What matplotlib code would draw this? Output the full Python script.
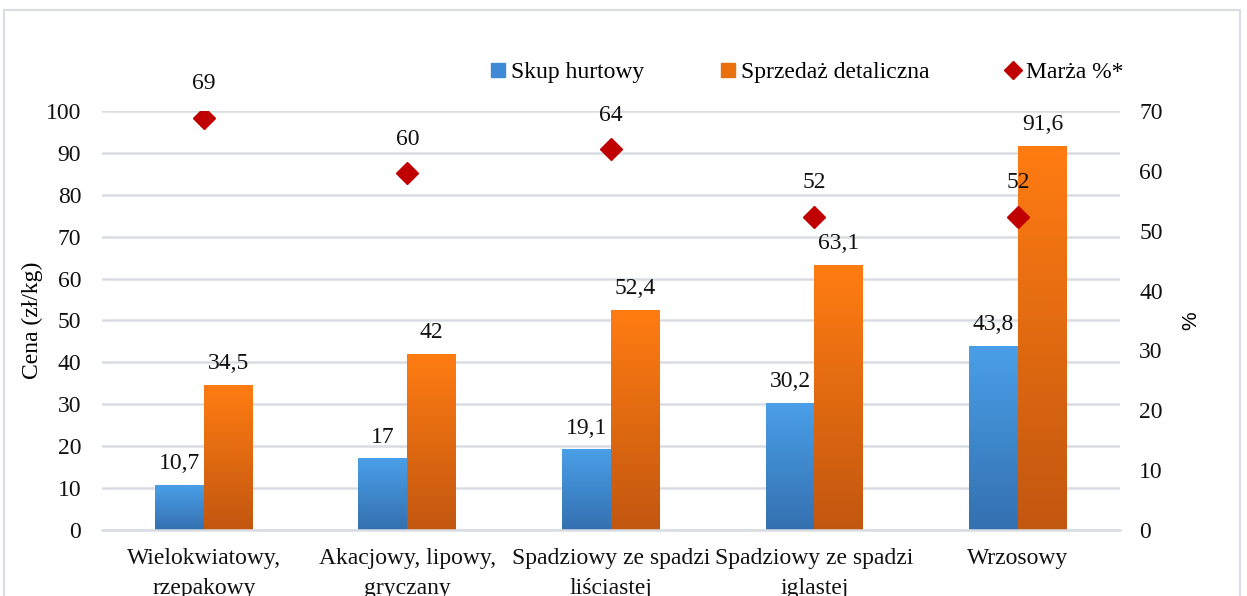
import numpy as np
import matplotlib
matplotlib.use("Agg")
from matplotlib import pyplot as plt
from matplotlib.lines import Line2D
from matplotlib.patches import Rectangle
from matplotlib.colors import LinearSegmentedColormap

# Data
categories = ["Wielokwiatowy,\nrzepakowy", "Akacjowy, lipowy,\ngryczany",
              "Spadziowy ze spadzi\nliściastej", "Spadziowy ze spadzi\niglastej",
              "Wrzosowy"]
skup = [10.7, 17, 19.1, 30.2, 43.8]
detal = [34.5, 42, 52.4, 63.1, 91.6]
marza = [69, 60, 64, 52, 52]
marza_pos = [68.9, 59.6, 63.6, 52.3, 52.3]  # where the diamonds sit

plt.rcParams['font.family'] = ['Liberation Serif', 'DejaVu Serif']
fs = 17

fig = plt.figure(figsize=(12.47, 5.96), dpi=100)
ax = fig.add_axes([0.0818, 0.1107, 0.8162, 0.7031])
ax2 = ax.twinx()

x = np.arange(len(categories))
w = 0.24

#gradient bars
blue_cm = LinearSegmentedColormap.from_list("b", ["#3470b0", "#4a9fe8"])
orange_cm = LinearSegmentedColormap.from_list("o", ["#c25710", "#ff7c12"])
grad = np.linspace(0, 1, 256).reshape(-1, 1)

bars1 = ax.bar(x - w/2, skup, w, color="none", zorder=2)
bars2 = ax.bar(x + w/2, detal, w, color="none", zorder=2)
for bars, cm in [(bars1, blue_cm), (bars2, orange_cm)]:
    for b in bars:
        bx, by, bw, bh = b.get_x(), b.get_y(), b.get_width(), b.get_height()
        ax.imshow(grad, extent=[bx, bx + bw, by, by + bh], origin="lower",
                  cmap=cm, aspect="auto", zorder=2)

for bars, vals in [(bars1, skup), (bars2, detal)]:
    for b, v in zip(bars, vals):
        ax.annotate(f"{v:g}".replace(".", ","), (b.get_x() + b.get_width()/2, v),
                    xytext=(0, 8), textcoords="offset points",
                    ha="center", va="bottom", fontsize=fs, color="#111111")

ax2.plot(x, marza_pos, linestyle="none", marker="D", markersize=11.5,
         color="#c00000", zorder=5)
for xi, yp, m in zip(x, marza_pos, marza):
    ax2.annotate(f"{m}", (xi, yp), xytext=(0, 17), textcoords="offset points",
                 ha="center", va="bottom", fontsize=fs, color="#111111")

ax.set_xlim(-0.5, len(categories) - 0.5)
ax.set_ylim(0, 100)
ax2.set_ylim(0, 70)
ax.set_yticks(np.arange(0, 101, 10))
ax2.set_yticks(np.arange(0, 71, 10))
ax.set_xticks(x)
ax.set_xticklabels(categories, fontsize=fs, linespacing=1.55)

ax.yaxis.grid(True, color="#d9dde3", linewidth=1.8)
ax.set_axisbelow(True)
ax.tick_params(axis="both", length=0, labelsize=fs, colors="#111111")
ax.tick_params(axis="y", pad=15)
ax.tick_params(axis="x", pad=13)
ax2.tick_params(axis="y", length=0, labelsize=fs, pad=14, colors="#111111")
for a in (ax, ax2):
    for s in a.spines.values():
        s.set_visible(False)
ax.spines["bottom"].set_visible(True)
ax.spines["bottom"].set_color("#d9dde3")
ax.spines["bottom"].set_linewidth(1.8)

ax.set_ylabel("Cena (zł/kg)", fontsize=fs)
ax.yaxis.set_label_coords(-0.058, 0.5)
ax2.set_ylabel("%", fontsize=15, family=["Liberation Sans"])
ax2.yaxis.set_label_coords(1.06, 0.5)

handles = [Line2D([], [], linestyle="none", marker="s", markersize=10, color="#3f8ad6"),
           Line2D([], [], linestyle="none", marker="s", markersize=10, color="#e8700f"),
           Line2D([], [], linestyle="none", marker="D", markersize=9, color="#c00000")]
fig.legend(handles, ["Skup hurtowy", "Sprzedaż detaliczna", "Marża %*"],
           loc="center", bbox_to_anchor=(0.647, 0.879), ncol=3, frameon=False,
           fontsize=fs, handlelength=0.7, handletextpad=0.2, columnspacing=3.2)

fig.add_artist(Rectangle((0.0032, -0.1), 0.9912, 1.083, transform=fig.transFigure,
                         fill=False, edgecolor="#d9dde3", linewidth=1.5))

fig.savefig("out.png", dpi=100)
